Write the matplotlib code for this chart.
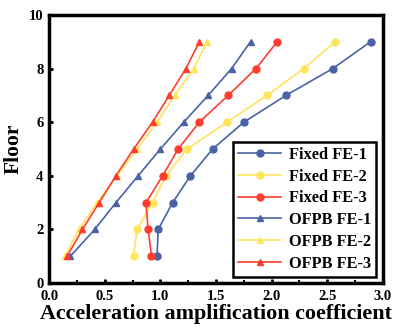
import matplotlib
matplotlib.use("Agg")
import matplotlib.pyplot as plt
from matplotlib.ticker import MultipleLocator

plt.rcParams['font.family'] = ['Liberation Serif', 'DejaVu Serif']
plt.rcParams['font.weight'] = 'bold'

floors = [1, 2, 3, 4, 5, 6, 7, 8, 9]

fixed_fe1 = [0.97, 0.98, 1.11, 1.27, 1.47, 1.75, 2.13, 2.55, 2.89]
fixed_fe2 = [0.76, 0.79, 0.93, 1.05, 1.24, 1.60, 1.96, 2.29, 2.57]
fixed_fe3 = [0.92, 0.89, 0.87, 1.02, 1.16, 1.35, 1.61, 1.86, 2.05]
ofpb_fe1 = [0.19, 0.41, 0.60, 0.80, 1.00, 1.21, 1.43, 1.64, 1.81]
ofpb_fe2 = [0.14, 0.27, 0.43, 0.61, 0.79, 0.97, 1.13, 1.30, 1.42]
ofpb_fe3 = [0.16, 0.30, 0.45, 0.60, 0.76, 0.93, 1.08, 1.23, 1.35]

blue = '#4a62a6'
yellow = '#ffe45c'
red = '#ff3d2e'

series = [
    ('Fixed FE-1', fixed_fe1, blue, 'o'),
    ('Fixed FE-2', fixed_fe2, yellow, 'o'),
    ('Fixed FE-3', fixed_fe3, red, 'o'),
    ('OFPB FE-1', ofpb_fe1, blue, '^'),
    ('OFPB FE-2', ofpb_fe2, yellow, '^'),
    ('OFPB FE-3', ofpb_fe3, red, '^'),
]

fig = plt.figure(figsize=(3.96, 3.3), dpi=100)
ax = fig.add_axes([0.124, 0.142, 0.843, 0.813])

for label, vals, color, marker in series:
    ax.plot(vals, floors, color=color, marker=marker, markersize=5,
            linewidth=1.2, label=label)

ax.set_xlim(0, 3.0)
ax.set_ylim(0, 10)
ax.xaxis.set_major_locator(MultipleLocator(0.5))
ax.xaxis.set_minor_locator(MultipleLocator(0.25))
ax.yaxis.set_major_locator(MultipleLocator(2))

for s in ax.spines.values():
    s.set_linewidth(2.5)
ax.tick_params(axis='both', which='major', direction='in', length=3, width=2,
               labelsize=10.5)
ax.tick_params(axis='x', which='major', pad=5)
ax.tick_params(axis='y', which='major', pad=4)
ax.tick_params(axis='both', which='minor', direction='in', length=2, width=1.5)

for lbl in ax.get_xticklabels() + ax.get_yticklabels():
    lbl.set_fontweight('bold')

ax.set_xlabel('Acceleration amplification coefficient', fontsize=15.8,
              fontweight='bold', labelpad=1)
ax.set_ylabel('Floor', fontsize=15.5, fontweight='bold', labelpad=4)

leg = ax.legend(loc='lower right', frameon=True, fancybox=False,
                borderpad=0.3, labelspacing=0.35, handlelength=2.6,
                handletextpad=0.5, borderaxespad=0.4,
                prop={'weight': 'bold', 'size': 11.8})
leg.get_frame().set_edgecolor('black')
leg.get_frame().set_linewidth(1.8)
leg.get_frame().set_alpha(1)

fig.savefig('out.png', dpi=100)
